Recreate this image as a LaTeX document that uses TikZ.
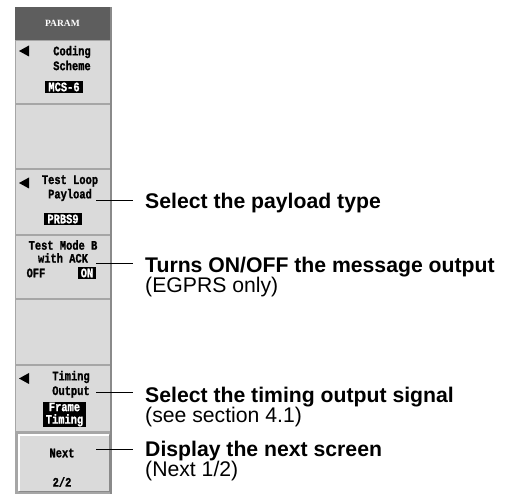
\documentclass[tikz,border=0pt]{standalone}
\usepackage{fontspec}
\setmainfont{Liberation Sans}
\newfontfamily\btnfont[FakeStretch=0.8,FakeBold=1.2]{Liberation Mono}
\newfontfamily\hdrfont{Liberation Serif}
\definecolor{face}{HTML}{DADADA}
\definecolor{framegray}{HTML}{A6A6A6}
\definecolor{hdrgray}{HTML}{5E5E5E}
\definecolor{shadowgray}{HTML}{8A8A8A}
\begin{document}
\begin{tikzpicture}[x=1pt,y=-1pt,
  btn/.style={fill=face, minimum width=93.5pt, inner sep=0, anchor=north west},
  keytext/.style={font=\btnfont\bfseries\fontsize{13}{14}\selectfont, inner sep=0},
  inv/.style={keytext, fill=black, text=white, inner xsep=3pt, inner ysep=1.5pt},
  callout/.style={font=\bfseries\fontsize{21.2}{19}\selectfont, anchor=base west, inner xsep=12pt, inner ysep=0},
  note/.style={font=\fontsize{21.2}{19}\selectfont, anchor=base west, inner xsep=12pt, inner ysep=0},
  leader/.style={line width=1pt},
  tri/.style={fill=black}
]
\useasboundingbox (0,0) rectangle (507,494);
% panel frame
\fill[framegray] (15,7) rectangle (112,494);
\fill[shadowgray] (109.5,7) rectangle (112,494);
% header
\node[fill=hdrgray, minimum width=94.5pt, minimum height=33pt, anchor=north west, inner sep=0,
      text=white, font=\hdrfont\bfseries\fontsize{9.5}{11}\selectfont] (hdr) at (15,7) {PARAM};
% buttons
\node[btn, minimum height=62pt] (b1) at (16,41) {};
\node[btn, minimum height=63pt] (b2) at (16,105) {};
\node[btn, minimum height=64pt] (b3) at (16,170) {};
\node[btn, minimum height=62pt] (b4) at (16,236) {};
\node[btn, minimum height=64pt] (b5) at (16,300) {};
\node[btn, minimum height=65pt] (b6) at (16,366) {};
\node[btn, minimum width=90pt, minimum height=56pt] (b7) at (19,435) {};
\draw[white, line width=1.2pt] (b7.south west) -- (b7.north west) -- (b7.north east);
\draw[shadowgray, line width=1.2pt] (b7.north east) -- (b7.south east) -- (b7.south west);
% button 1
\fill[tri] (19,51) -- (29,45.5) -- (29,56.5) -- cycle;
\node[keytext] (t1a) at (72,52) {Coding};
\node[keytext] (t1b) at (72,65.5) {Scheme};
\node[inv] (t1c) at (64,87) {MCS-6};
% button 3
\fill[tri] (19,183) -- (29,177.5) -- (29,188.5) -- cycle;
\node[keytext] (t3a) at (70,181) {Test Loop};
\node[keytext] (t3b) at (70,195) {Payload};
\node[inv] (t3c) at (63,219) {PRBS9};
% button 4
\node[keytext] (t4a) at (63,245) {Test Mode B};
\node[keytext] (t4b) at (63,258) {with ACK};
\node[keytext] (t4c) at (36,273) {OFF};
\node[inv] (t4d) at (87,273) {ON};
% button 6
\fill[tri] (19,378.5) -- (29,373) -- (29,384) -- cycle;
\node[keytext] (t6a) at (71,377) {Timing};
\node[keytext] (t6b) at (71,392) {Output};
\node[inv, align=center, font=\btnfont\bfseries\fontsize{13}{12.5}\selectfont, inner ysep=1pt] (t6c) at (64.5,414.5) {Frame\\Timing};
% button 7
\node[keytext] (t7a) at (62,453) {Next};
\node[keytext] (t7b) at (62,482) {2/2};
% callouts
\node[callout] (l1) at (133,209) {Select the payload type};
\node[callout] (l2) at (133,273) {Turns ON/OFF the message output};
\node[note] (l2b) at (133,292.5) {(EGPRS only)};
\node[callout] (l3) at (133,403) {Select the timing output signal};
\node[note] (l3b) at (133,422.5) {(see section 4.1)};
\node[callout] (l4) at (133,457) {Display the next screen};
\node[note] (l4b) at (133,476.5) {(Next 1/2)};
% leaders
\coordinate (s1) at (96,201);
\coordinate (s2) at (96,264);
\coordinate (s3) at (96,393);
\coordinate (s4) at (96,450);
\draw[leader] (s1) -- (s1 -| l1.west);
\draw[leader] (s2) -- (s2 -| l2.west);
\draw[leader] (s3) -- (s3 -| l3.west);
\draw[leader] (s4) -- (s4 -| l4.west);
\end{tikzpicture}
\end{document}
